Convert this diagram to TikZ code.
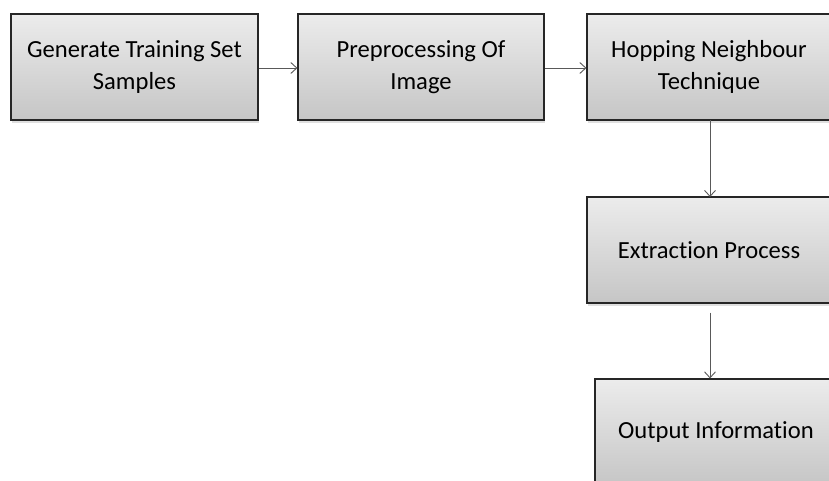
\documentclass[tikz,border=0pt]{standalone}
\usepackage{fontspec}
\setmainfont[Ligatures=NoCommon]{Carlito}
\usetikzlibrary{arrows.meta,shadows}
\begin{document}
\begin{tikzpicture}[x=1pt,y=-1pt,
  stepbox/.style={draw=black!85, line width=1.1pt, rectangle, inner sep=0pt,
    top color=gray!15, bottom color=gray!45, align=center,
    font=\fontsize{24.6}{32}\selectfont, text=black,
    drop shadow={shadow xshift=0.5pt, shadow yshift=-2.5pt, opacity=0.25}},
  conn/.style={draw=black!65, line width=0.9pt, -{Straight Barb[length=6pt,width=11pt,line width=0.9pt]}}
]
\useasboundingbox (0,0) rectangle (829,480);
\clip (0,0) rectangle (829,480);
\node[stepbox, minimum width=247pt, minimum height=106pt] (b1) at (134.5,67) {Generate Training Set\\Samples};
\node[stepbox, minimum width=246pt, minimum height=106pt] (b2) at (421,67) {Preprocessing Of\\Image};
\node[stepbox, minimum width=244pt, minimum height=106pt] (b3) at (709,67) {Hopping Neighbour\\Technique};
\node[stepbox, minimum width=244pt, minimum height=106pt] (b4) at (709,250) {Extraction Process};
\node[stepbox, minimum width=242pt, minimum height=106pt] (b5) at (716,432) {Output Information};
\draw[conn] (b1.east |- 0,68) -- (b2.west |- 0,68);
\draw[conn] (b2.east |- 0,68) -- (b3.west |- 0,68);
\draw[conn] (710,120) coordinate (c1) -- (710,197) coordinate (c2);
\draw[conn, shorten <=9pt] (b4.south -| 710,0) -- (b5.north -| 710,0);
\end{tikzpicture}
\end{document}
